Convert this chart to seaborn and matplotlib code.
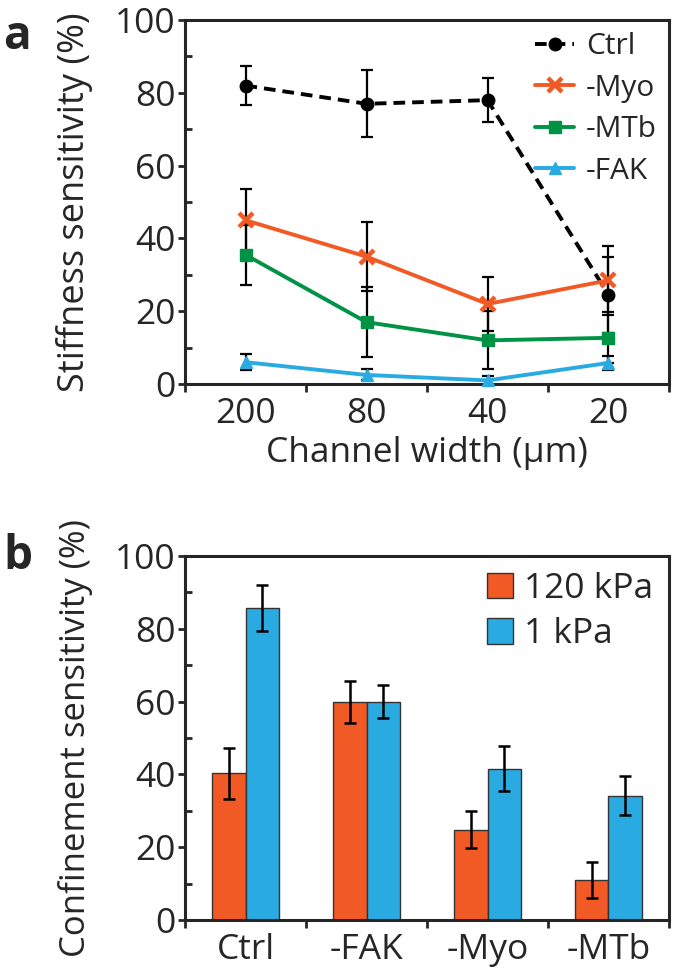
import numpy as np
import pandas as pd
import seaborn as sns
import matplotlib.pyplot as plt
from matplotlib.ticker import FixedLocator

sns.set_style('ticks')
plt.rcParams['font.family'] = ['Open Sans', 'DejaVu Sans']
plt.rcParams['axes.linewidth'] = 2.2

# panel a data: stiffness sensitivity vs channel width
widths = ['200', '80', '40', '20']
ctrl = [82, 77, 78, 24.5]
ctrl_err = [5.3, 9.2, 6, 10.5]
myo = [45, 35, 22, 28.5]
myo_err = [8.5, 9.5, 7.5, 9.5]
mtb = [35.5, 17, 12, 12.7]
mtb_err = [8.2, 9.6, 8, 7]
fak = [6, 2.5, 1, 5.8]
fak_err = [2.2, 1.5, 1.2, 2]

# panel b data: confinement sensitivity
conds = ['Ctrl', '-FAK', '-Myo', '-MTb']
kpa120 = [40.3, 60, 24.8, 11]
kpa120_err = [7, 5.8, 5.1, 5]
kpa1 = [85.7, 60, 41.6, 34.2]
kpa1_err = [6.3, 4.6, 6.2, 5.3]

orange = '#F15A24'
green = '#009245'
blue = '#29ABE2'

fig = plt.figure(figsize=(6.75, 9.74), dpi=100)
ax1 = fig.add_axes([0.2741, 0.6057, 0.7170, 0.3737])
ax2 = fig.add_axes([0.2741, 0.0554, 0.7170, 0.3737])

pos = np.arange(len(widths))
series = [
    ('Ctrl', ctrl, ctrl_err, 'black', 'o', (0, (3.0, 1.8)), 9, 1),
    ('-Myo', myo, myo_err, orange, 'x', '-', 10, 3.2),
    ('-MTb', mtb, mtb_err, green, 's', '-', 9, 1),
    ('-FAK', fak, fak_err, blue, '^', '-', 9, 1),
]
for name, vals, errs, col, mk, ls, ms, mew in series:
    ax1.errorbar(pos, vals, yerr=errs, fmt='none', ecolor='black',
                 elinewidth=1.6, capsize=4.5, capthick=1.6, zorder=2)
    sns.lineplot(x=pos, y=vals, ax=ax1, color=col, marker=mk, linestyle=ls,
                 linewidth=2.8, markersize=ms, markeredgecolor=col,
                 markeredgewidth=mew, label=name, zorder=3, clip_on=False)

ax1.set_ylim(0, 100)
ax1.set_xlim(-0.5, 3.5)
ax1.set_yticks(range(0, 101, 20))
ax1.yaxis.set_minor_locator(FixedLocator(range(10, 100, 20)))
ax1.set_xticks(pos)
ax1.set_xticklabels(widths)
ax1.xaxis.set_minor_locator(FixedLocator(np.arange(-0.5, 3.6, 1)))
ax1.set_xlabel('Channel width (\u03bcm)', fontsize=25.5, labelpad=4)
ax1.set_ylabel('Stiffness sensitivity (%)', fontsize=26)
ax1.legend(loc='upper right', frameon=False, fontsize=21.5,
           handlelength=1.3, handletextpad=0.4, labelspacing=0.42,
           borderaxespad=0.2, borderpad=0.2)

# panel b
df_b = pd.DataFrame({
    'cond': conds * 2,
    'val': kpa120 + kpa1,
    'stiff': ['120 kPa'] * 4 + ['1 kPa'] * 4,
})
sns.barplot(data=df_b, x='cond', y='val', hue='stiff', ax=ax2,
            palette=[orange, blue], width=0.55, gap=0, errorbar=None,
            edgecolor='#333333', linewidth=1, saturation=1)
for cont, errs in zip(ax2.containers, [kpa120_err, kpa1_err]):
    xs = [b.get_x() + b.get_width() / 2 for b in cont]
    ys = [b.get_height() for b in cont]
    ax2.errorbar(xs, ys, yerr=errs, fmt='none', ecolor='black',
                 elinewidth=1.8, capsize=4.5, capthick=1.8, zorder=3)

ax2.set_ylim(0, 100)
ax2.set_xlim(-0.5, 3.5)
ax2.set_yticks(range(0, 101, 20))
ax2.yaxis.set_minor_locator(FixedLocator(range(10, 100, 20)))
ax2.xaxis.set_minor_locator(FixedLocator(np.arange(-0.5, 3.6, 1)))
ax2.set_xlabel('')
ax2.set_ylabel('Confinement sensitivity (%)', fontsize=25)
h, l = ax2.get_legend_handles_labels()
ax2.legend(h, l, loc='upper right', frameon=False, fontsize=25.5,
           handlelength=0.74, handleheight=0.74, handletextpad=0.3,
           labelspacing=0.32, borderaxespad=0.35, borderpad=0.1)

for ax in (ax1, ax2):
    for sp in ax.spines.values():
        sp.set_visible(True)
        sp.set_linewidth(2.2)
    ax.tick_params(axis='y', which='major', direction='out', length=5,
                   width=2, labelsize=25.5, pad=2)
    ax.tick_params(axis='y', which='minor', direction='in', length=5, width=2)
    ax.tick_params(axis='x', which='major', length=0, labelsize=25.5, pad=9)
    ax.tick_params(axis='x', which='minor', direction='out', length=6, width=2)
    ax.yaxis.set_label_coords(-0.19, 0.5)

fig.text(0.005, 0.95, 'a', fontsize=33, fontweight='bold')
fig.text(0.005, 0.416, 'b', fontsize=33, fontweight='bold')

fig.savefig('out.png', dpi=100)
